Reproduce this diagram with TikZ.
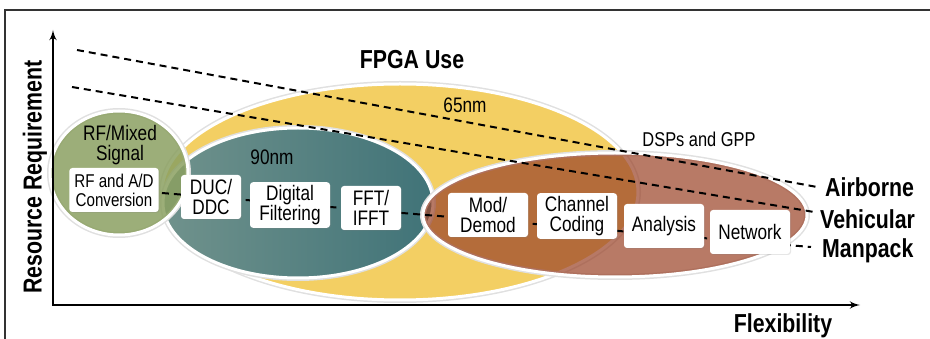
\documentclass[tikz,border=0pt]{standalone}
\usepackage{fontspec}
\setmainfont{Liberation Sans}[FakeStretch=0.82]
\usepackage{tikz}
\usetikzlibrary{
  arrows,
  shapes.geometric,
  positioning,
  shadows
}
\definecolor{fpgayellow}{RGB}{243,207,99}
\definecolor{nmteal}{RGB}{64,115,120}
\definecolor{nmtealhi}{RGB}{112,146,140}
\definecolor{rfgreen}{RGB}{139,160,97}
\definecolor{dspbrown}{RGB}{156,70,43}

\begin{document}
\begin{tikzpicture}[
      x=1pt, y=-1pt,
      region/.style={
         ellipse,
         inner sep=0pt,
         draw=white,
         line width=3pt,
         preaction={draw=black!12, line width=6pt}
      },
      block/.style={
         rectangle,
         rounded corners=3pt,
         fill=white,
         minimum width=80pt,
         minimum height=44pt,
         inner xsep=5pt,
         inner ysep=3pt,
         align=center,
         font=\fontsize{21}{20}\selectfont,
         drop shadow={opacity=0.2, shadow xshift=1pt, shadow yshift=-1pt}
      },
      tag/.style={font=\fontsize{21}{20}\selectfont, align=center, inner sep=0pt},
      big/.style={font=\bfseries\fontsize{26}{26}\selectfont, inner sep=0pt},
      trend/.style={dash pattern=on 7pt off 5pt, line width=2pt},
      axis/.style={<->, line width=2.5pt},
      >=latex'
    ]
  \useasboundingbox (0,0) rectangle (930,339);
  \draw[line width=1.3pt, black!80] (5,339) -- (5,10) -- (930,10);

  % regions
  \node[region, fill=fpgayellow, minimum width=476pt, minimum height=216pt] (fpga) at (400,192) {};
  \node[region, left color=nmtealhi, middle color=nmteal, right color=nmteal,
        minimum width=270pt, minimum height=150pt] (nm90) at (298,203) {};
  \node[region, fill=rfgreen, fill opacity=0.85, minimum width=138pt, minimum height=124pt] (rf) at (119,173) {};
  \node[region, fill=dspbrown, fill opacity=0.72, minimum width=384pt, minimum height=124pt] (dsp) at (615,215) {};

  \node[tag] (rflabel) at (120,145) {RF/Mixed\\Signal};
  \node[tag] (nm90label) at (272,157) {90nm};
  \node[tag] (nm65label) at (465,105) {65nm};
  \node[tag, font=\fontsize{20}{20}\selectfont] (dsplabel) at (699,139) {DSPs and GPP};
  \node[big] (fpgalabel) at (412,60) {FPGA Use};

  % platform trends
  \coordinate (air0) at (77,50);
  \coordinate (air1) at (817,187);
  \coordinate (veh0) at (72,87);
  \coordinate (veh1) at (814,212);
  \coordinate (man0) at (150,192);
  \coordinate (man1) at (811,247);
  \draw[trend] (air0) -- (air1);
  \draw[trend] (veh0) -- (veh1);
  \draw[trend] (man0) -- (man1);
  \node[big, anchor=west] (airborne) at (825,187) {Airborne};
  \node[big, anchor=west] (vehicular) at (820,219) {Vehicular};
  \node[big, anchor=west] (manpack) at (822,251) {Manpack};

  % functions
  \node[block, minimum width=87pt, font=\fontsize{18.5}{19}\selectfont] (rfad) at (114,190) {RF and A/D\\Conversion};
  \node[block, minimum width=60pt] (duc) at (211,197) {DUC/\\DDC};
  \node[block] (filter) at (290,205) {Digital\\Filtering};
  \node[block, minimum width=60pt] (fft) at (371,208) {FFT/\\IFFT};
  \node[block] (mod) at (488,215) {Mod/\\Demod};
  \node[block] (coding) at (577,216) {Channel\\Coding};
  \node[block] (analysis) at (664,226) {Analysis};
  \node[block] (network) at (750,232) {Network};

  % axes
  \coordinate (origin) at (53,305);
  \coordinate (ytop) at (53,30);
  \coordinate (xend) at (860,305);
  \draw[axis] (ytop) -- (origin) -- (xend);
  \node[big, rotate=90] (ylabel) at (35,177) {Resource Requirement};
  \node[big] (xlabel) at (783,326) {Flexibility};
\end{tikzpicture}
\end{document}
